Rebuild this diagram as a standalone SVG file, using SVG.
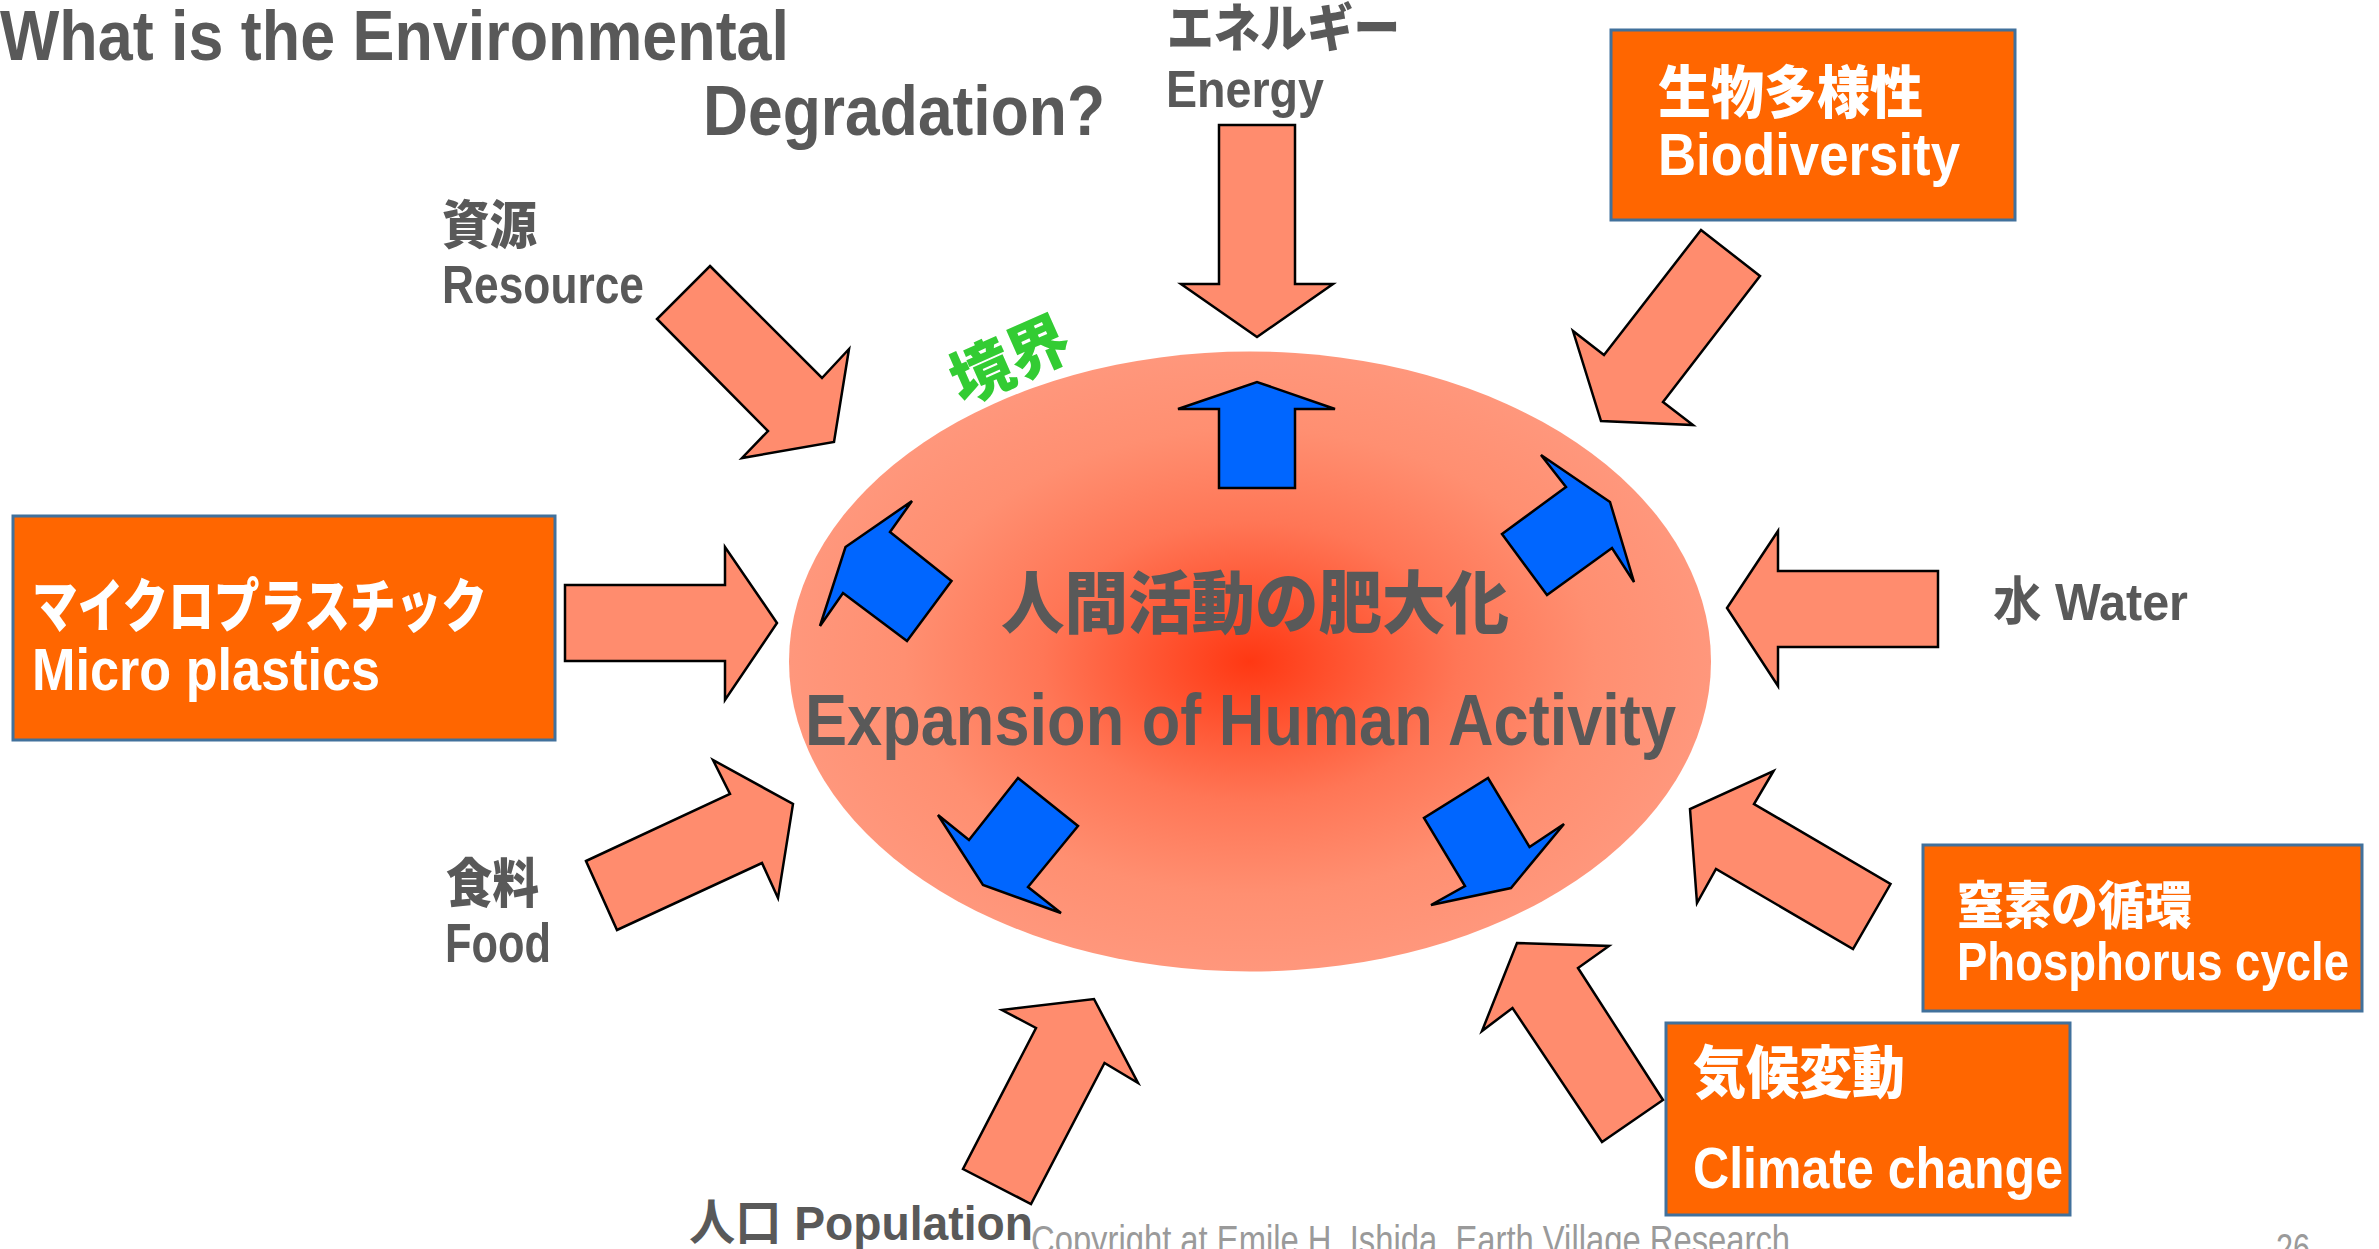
<svg xmlns="http://www.w3.org/2000/svg" width="2379" height="1249" viewBox="0 0 2379 1249">
<defs>
<radialGradient id="core" cx="50%" cy="50%" r="50%">
<stop offset="0" stop-color="#FF3813"/>
<stop offset="0.45" stop-color="#FF7656"/>
<stop offset="0.75" stop-color="#FF8F71"/>
<stop offset="1" stop-color="#FF977C"/>
</radialGradient>
<style>
.en{font-family:"Liberation Sans","Noto Sans CJK JP",sans-serif;font-weight:700;fill:#595959}
.jp{font-family:"Noto Sans CJK JP",sans-serif;font-weight:900;fill:#595959}
.w{fill:#FFFFFF}
.sal{fill:#FF8C6E;stroke:#000;stroke-width:2.5;stroke-linejoin:miter}
.blu{fill:#0066FF;stroke:#000;stroke-width:2.5;stroke-linejoin:miter}
.box{fill:#FF6600;stroke:#41719C;stroke-width:3}
.cp{font-family:"Liberation Sans",sans-serif;font-weight:400;fill:#9A9A9A}
</style>
</defs>
<rect width="2379" height="1249" fill="#FFFFFF"/>

<g id="title">
<text class="en" x="0" y="60" font-size="70" textLength="789" lengthAdjust="spacingAndGlyphs">What is the Environmental</text>
<text class="en" x="703" y="135" font-size="70" textLength="402" lengthAdjust="spacingAndGlyphs">Degradation?</text>
</g>

<g id="center">
<ellipse cx="1250" cy="661.5" rx="461" ry="310" fill="url(#core)"/>
<text class="jp" x="1001" y="628" font-size="68" textLength="508" lengthAdjust="spacingAndGlyphs">人間活動の肥大化</text>
<text class="en" x="805" y="745" font-size="73" textLength="871" lengthAdjust="spacingAndGlyphs">Expansion of Human Activity</text>
</g>

<g id="boundary">
<text class="jp" x="1010" y="382" font-size="62" text-anchor="middle" style="fill:#33CC33" transform="rotate(-24 1010 360)">境界</text>
</g>

<g id="energy">
<text class="jp" x="1167" y="47" font-size="52" textLength="233" lengthAdjust="spacingAndGlyphs">エネルギー</text>
<text class="en" x="1166" y="107" font-size="52" textLength="158" lengthAdjust="spacingAndGlyphs">Energy</text>
</g>

<g id="biodiversity">
<rect class="box" x="1611" y="30" width="404" height="190"/>
<text class="jp w" x="1658" y="113" font-size="57" textLength="265" lengthAdjust="spacingAndGlyphs">生物多様性</text>
<text class="en w" x="1658" y="175" font-size="60" textLength="302" lengthAdjust="spacingAndGlyphs">Biodiversity</text>
</g>

<g id="resource">
<text class="jp" x="442" y="244" font-size="52" textLength="95" lengthAdjust="spacingAndGlyphs">資源</text>
<text class="en" x="442" y="303" font-size="53" textLength="202" lengthAdjust="spacingAndGlyphs">Resource</text>
</g>

<g id="microplastics">
<rect class="box" x="13" y="516" width="542" height="224"/>
<text class="jp w" x="32" y="627" font-size="58" textLength="455" lengthAdjust="spacingAndGlyphs">マイクロプラスチック</text>
<text class="en w" x="32" y="690" font-size="59" textLength="348" lengthAdjust="spacingAndGlyphs">Micro plastics</text>
</g>

<g id="food">
<text class="jp" x="446" y="903" font-size="53" textLength="93" lengthAdjust="spacingAndGlyphs">食料</text>
<text class="en" x="445" y="962" font-size="56" textLength="106" lengthAdjust="spacingAndGlyphs">Food</text>
</g>

<g id="water">
<text class="en" x="1993" y="620" font-size="52" textLength="195" lengthAdjust="spacingAndGlyphs">水 Water</text>
</g>

<g id="phosphorus">
<rect class="box" x="1923" y="845" width="439" height="166"/>
<text class="jp w" x="1957" y="924" font-size="51" textLength="235" lengthAdjust="spacingAndGlyphs">窒素の循環</text>
<text class="en w" x="1957" y="980" font-size="53" textLength="392" lengthAdjust="spacingAndGlyphs">Phosphorus cycle</text>
</g>

<g id="climate">
<rect class="box" x="1666" y="1023" width="404" height="192"/>
<text class="jp w" x="1693" y="1093" font-size="57" textLength="212" lengthAdjust="spacingAndGlyphs">気候変動</text>
<text class="en w" x="1693" y="1188" font-size="57" textLength="370" lengthAdjust="spacingAndGlyphs">Climate change</text>
</g>

<g id="population">
<text class="en" x="689" y="1240" font-size="49" textLength="344" lengthAdjust="spacingAndGlyphs">人口 Population</text>
</g>

<g id="footer">
<text class="cp" x="1031" y="1254" font-size="40" textLength="759" lengthAdjust="spacingAndGlyphs">Copyright at Emile H. Ishida, Earth Village Research</text>
<text class="cp" x="2276" y="1262" font-size="40" textLength="34" lengthAdjust="spacingAndGlyphs">26</text>
</g>

<g id="connectors">
<polygon class="sal" points="1219,125 1295,125 1295,284 1333,284 1257,337 1181,284 1219,284"/>
<polygon class="sal" points="1701,230 1760,276 1663,402 1693,425 1601,421 1573,331 1604,355"/>
<polygon class="sal" points="710,266 822,378 849,349 834,442 742,458 768,431 657,319"/>
<polygon class="sal" points="565,585 725,585 725,547 777,623 725,700 725,661 565,661"/>
<polygon class="sal" points="586,861 730,794 713,760 793,804 778,898 762,863 617,930"/>
<polygon class="sal" points="1938,571 1778,571 1778,531 1727,608 1778,686 1778,647 1938,647"/>
<polygon class="sal" points="1773.5,771 1754,804 1890.5,884 1853,949 1716,869 1697,903 1690,809"/>
<polygon class="sal" points="1517,943 1609,946 1578,968 1663,1100 1602,1142 1512.5,1008 1482,1031"/>
<polygon class="sal" points="1002,1010 1094,999 1138,1083 1104.5,1063 1031,1204 963,1169 1036,1028"/>
<polygon class="blu" points="1219,488 1295,488 1295,409 1335,409 1257,382 1178,409 1219,409"/>
<polygon class="blu" points="1541,455 1610,502 1634,582 1612,548 1547,595 1502,534 1566,487"/>
<polygon class="blu" points="912,501 890,532 951.5,581 907,641 843,593 820,626 845.5,547"/>
<polygon class="blu" points="1018,778 1078,826 1028,887 1061,913 983,885 938,815 969,840"/>
<polygon class="blu" points="1488,778 1529.5,847 1564,824 1511,888 1431,905 1465,886 1424,818"/>
</g>
</svg>
